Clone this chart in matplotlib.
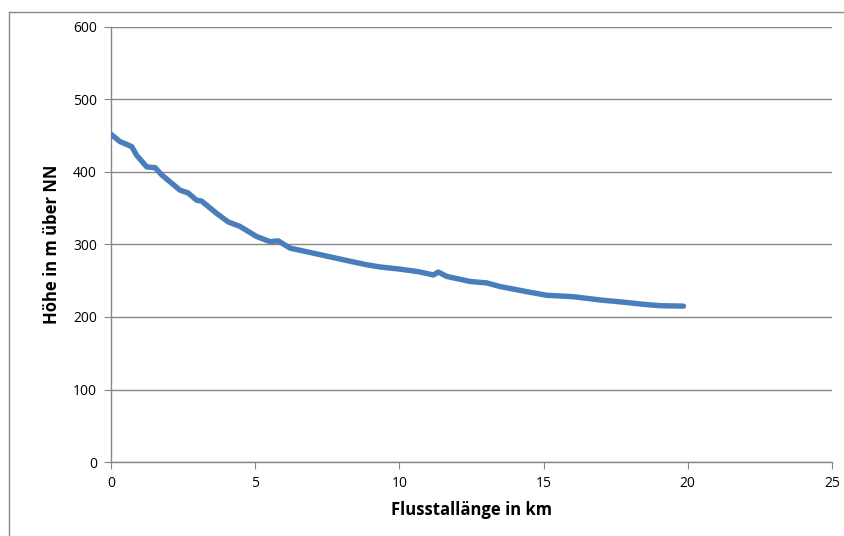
import numpy as np
import matplotlib.pyplot as plt
from matplotlib.lines import Line2D

# river profile: distance along the valley (km) vs. elevation (m above NN)
distance_km = [0.0, 0.31, 0.72, 0.89, 1.24, 1.53, 1.76, 2.39, 2.68, 2.97, 3.14,
               3.66, 4.07, 4.47, 5.05, 5.51, 5.80, 6.21, 6.79, 7.59, 8.40, 8.87,
               9.33, 10.02, 10.66, 11.18, 11.35, 11.64, 12.45, 13.03, 13.49,
               14.41, 15.10, 16.03, 16.96, 17.88, 18.46, 19.04, 19.85]
height_m = [452, 442, 435, 423, 407, 406, 396, 375, 371, 361, 360,
            343, 331, 325, 311, 304, 305, 295, 290, 283, 276, 272,
            269, 266, 262.5, 258, 262, 256, 249, 247, 242,
            235, 230, 228, 223.5, 220, 217.5, 215.6, 215]

x_ticks = [0, 5, 10, 15, 20, 25]
y_ticks = [0, 100, 200, 300, 400, 500, 600]

plt.rcParams['font.family'] = ['Open Sans', 'DejaVu Sans']

fig = plt.figure(figsize=(8.45, 5.36), dpi=100)
ax = fig.add_axes([111/845, 1-462/536, (832-111)/845, (462-27)/536])

ax.plot(distance_km, height_m, color='#4A7EBB', linewidth=3.9,
        solid_joinstyle='round', solid_capstyle='round', zorder=3)

ax.set_xlim(0, 25)
ax.set_ylim(0, 600)
ax.set_xticks(x_ticks)
ax.set_yticks(y_ticks)

ax.grid(axis='y', color='#868686', linewidth=1.0)
ax.set_axisbelow(True)
for side in ['top', 'right']:
    ax.spines[side].set_visible(False)
for side in ['left', 'bottom']:
    ax.spines[side].set_color('#868686')
    ax.spines[side].set_linewidth(1.0)

ax.tick_params(axis='both', direction='out', color='#868686', labelsize=10,
               labelcolor='#000000')
ax.tick_params(axis='y', length=5, pad=5)
ax.tick_params(axis='x', length=5, pad=5)

ax.set_xlabel('Flusstallänge in km', fontsize=12, fontweight='bold', labelpad=7)
ax.set_ylabel('Höhe in m über NN', fontsize=12, fontweight='bold', labelpad=9)

# chart frame (left and top edges)
fx = 9/845
fy = 1 - 12/536
fig.add_artist(Line2D([fx, fx], [0, fy], transform=fig.transFigure,
                      color='#888888', linewidth=1.0))
fig.add_artist(Line2D([fx, 1], [fy, fy], transform=fig.transFigure,
                      color='#888888', linewidth=1.0))

fig.savefig('out.png', dpi=100)
